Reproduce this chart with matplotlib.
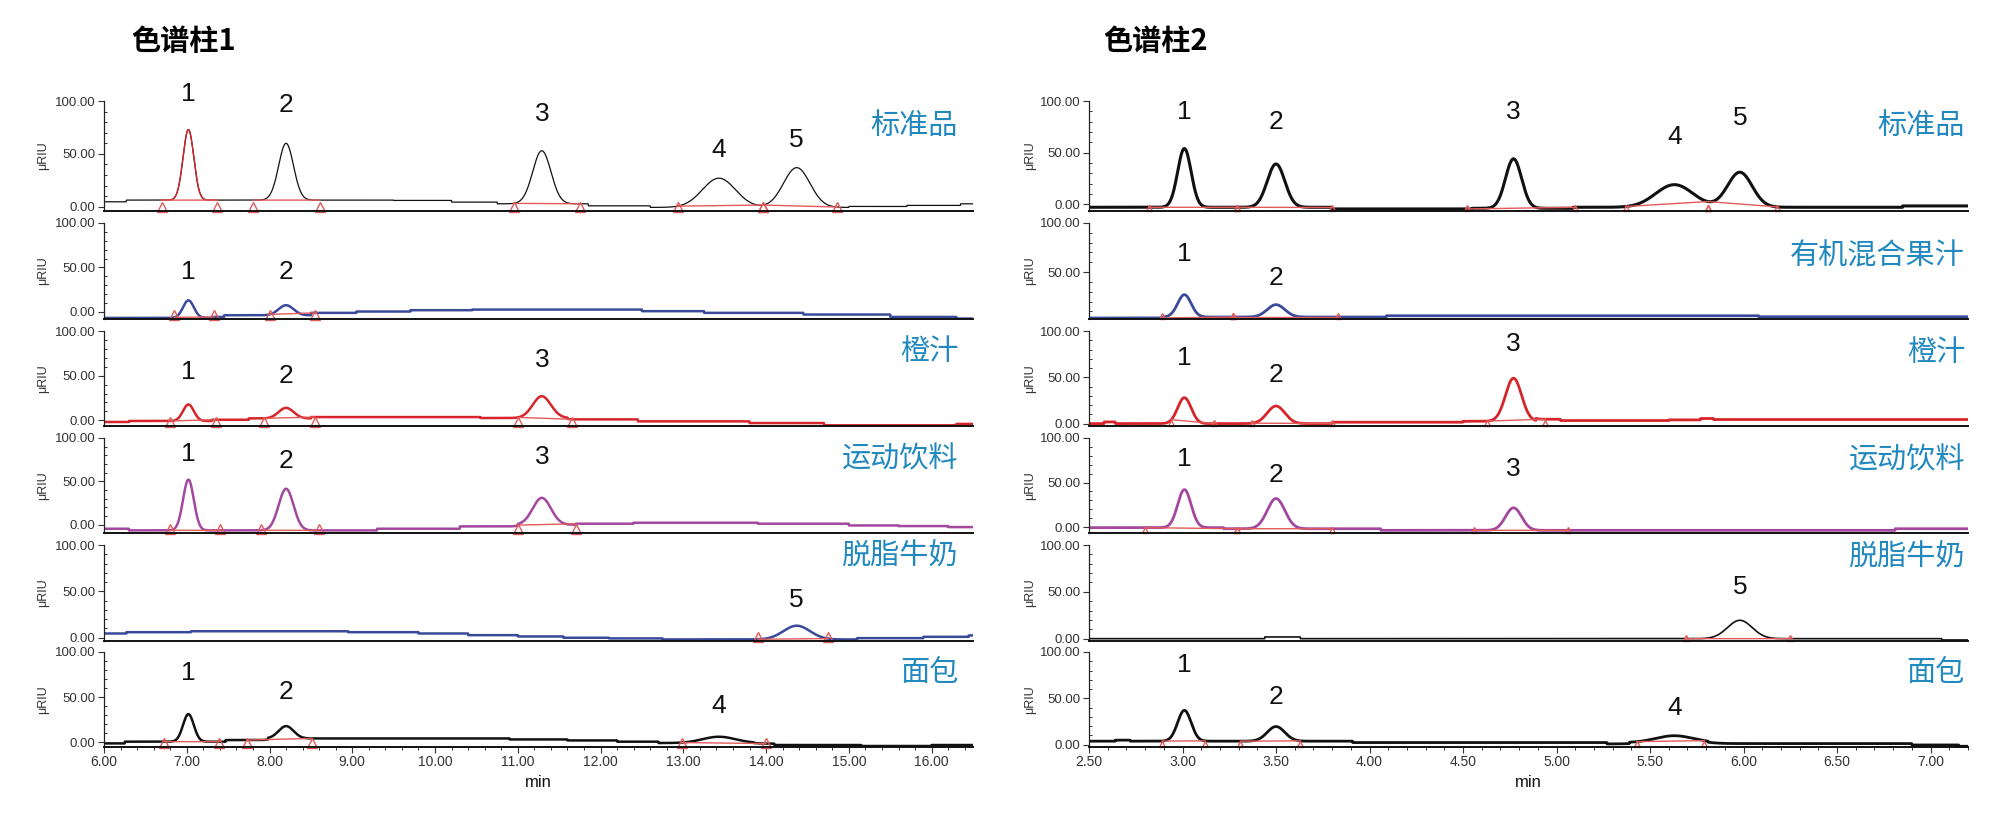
import numpy as np
import matplotlib
matplotlib.use("Agg")
import matplotlib.pyplot as plt
from matplotlib.ticker import MultipleLocator, FormatStrFormatter, FixedLocator
from matplotlib.transforms import offset_copy

plt.rcParams['font.family'] = ['Liberation Sans', 'Noto Sans CJK SC', 'DejaVu Sans']

# ---------------- data ----------------
titles = ["色谱柱1", "色谱柱2"]
samples = ["标准品", "有机混合果汁", "橙汁", "运动饮料", "脱脂牛奶", "面包"]
xlims = [(6.0, 16.5), (2.5, 7.2)]

# retention times / peak widths (sigma, min) for peaks 1..5
c1_rt = [7.02, 8.20, 11.29, 13.43, 14.37]
c1_sigma = [0.065, 0.09, 0.11, 0.20, 0.16]
c2_rt = [3.01, 3.50, 4.77, 5.63, 5.98]
c2_sigma = [0.036, 0.047, 0.043, 0.10, 0.066]

# ---- column 1 ----
c1_std_peaks = [1, 2, 3, 4, 5]
c1_std_tops = [73, 60, 53, 27, 37]
c1_std_lab = [107, 96, 88, 54, 63]
c1_std_win = [(6.70, 7.37), (7.80, 8.61), (10.95, 11.75), (12.93, 13.96), (13.96, 14.86)]
c1_std_bt = [6.0, 6.27, 9.5, 10.2, 10.75, 11.85, 12.6, 15.0, 15.7, 16.35]
c1_std_by = [4.7, 6.3, 6.0, 4.4, 2.8, 0.9, -0.6, 0.3, 1.3, 2.8]

c1_mix_peaks = [1, 2]
c1_mix_tops = [13, 7.5]
c1_mix_lab = [45, 45]
c1_mix_win = [(6.85, 7.33), (8.0, 8.55)]
c1_mix_bt = [6.0, 7.3, 7.45, 8.5, 9.05, 9.7, 10.45, 12.5, 13.25, 14.45, 15.5, 16.3]
c1_mix_by = [-6.8, -5.7, -3.8, -1.1, 0.4, 1.9, 2.6, 0.8, -1.1, -3.0, -5.7, -7.5]

c1_oj_peaks = [1, 2, 3]
c1_oj_tops = [17.8, 14, 27]
c1_oj_lab = [54, 50, 68]
c1_oj_win = [(6.8, 7.35), (7.93, 8.55), (11.0, 11.65)]
c1_oj_bt = [6.0, 6.3, 7.3, 7.75, 8.5, 10.55, 11.6, 12.45, 13.8, 14.7, 16.3]
c1_oj_by = [-1.8, -0.7, 0.7, 2.2, 3.7, 2.6, 1.1, -1.1, -3.0, -5.5, -4.0]

c1_sp_peaks = [1, 2, 3]
c1_sp_tops = [52, 41.5, 31]
c1_sp_lab = [81, 73, 78]
c1_sp_win = [(6.8, 7.4), (7.9, 8.6), (11.0, 11.7)]
c1_sp_bt = [6.0, 6.3, 9.3, 10.3, 11.0, 11.7, 12.4, 13.9, 15.0, 15.6, 16.2]
c1_sp_by = [-4.6, -6.5, -4.6, -1.9, 0.0, 1.2, 2.3, 1.2, -0.8, -1.5, -2.7]

c1_milk_peaks = [5]
c1_milk_tops = [13]
c1_milk_lab = [41]
c1_milk_win = [(13.9, 14.75)]
c1_milk_bt = [6.0, 6.27, 7.05, 8.95, 9.8, 10.4, 11.0, 11.55, 12.1, 12.75, 15.1, 15.9, 16.45]
c1_milk_by = [4.6, 6.0, 7.0, 6.0, 4.6, 2.8, 1.4, 0.0, -0.7, -1.8, -0.4, 1.0, 2.5]

c1_br_peaks = [1, 2, 4]
c1_br_tops = [31, 17.7, 5.9]
c1_br_lab = [77, 56, 40]
c1_br_win = [(6.73, 7.39), (7.73, 8.51), (12.98, 14.0)]
c1_br_bt = [6.0, 6.25, 7.47, 7.98, 10.9, 11.6, 12.2, 12.7, 13.85, 14.1, 15.15, 16.0]
c1_br_by = [-1.5, 0.4, 2.2, 4.0, 2.9, 1.8, 0.4, -1.1, -1.8, -3.3, -4.4, -3.3]

# ---- column 2 ----
c2_std_peaks = [1, 2, 3, 4, 5]
c2_std_tops = [54, 39, 44, 19, 31]
c2_std_lab = [89, 80, 89, 65, 84]
c2_std_win = [(2.82, 3.29), (3.29, 3.8), (4.52, 5.1), (5.37, 5.81), (5.81, 6.18)]
c2_std_bt = [2.5, 3.8, 4.55, 5.09, 6.85]
c2_std_by = [-2.9, -4.5, -3.9, -2.9, -1.6]

c2_mix_peaks = [1, 2]
c2_mix_tops = [27, 16.8]
c2_mix_lab = [68, 44]
c2_mix_win = [(2.89, 3.27), (3.27, 3.83)]
c2_mix_bt = [2.5, 2.9, 4.09, 6.08]
c2_mix_by = [3.2, 4.2, 5.5, 4.5]

c2_oj_peaks = [1, 2, 3]
c2_oj_tops = [28, 19, 49]
c2_oj_lab = [71, 53, 86]
c2_oj_win = [(2.94, 3.17), (3.37, 3.8), (4.63, 4.94)]
c2_oj_bt = [2.5, 2.58, 2.64, 3.8, 4.5, 4.89, 5.02, 5.6, 5.77, 5.84]
c2_oj_by = [0.0, 1.8, 0.0, 1.5, 2.5, 4.7, 3.3, 4.0, 5.5, 4.4]

c2_sp_peaks = [1, 2, 3]
c2_sp_tops = [42, 32, 21.6]
c2_sp_lab = [76, 59, 65]
c2_sp_win = [(2.8, 3.29), (3.29, 3.8), (4.56, 5.06)]
c2_sp_bt = [2.5, 3.22, 4.06, 6.81]
c2_sp_by = [-0.7, -1.9, -3.7, -1.9]

c2_milk_peaks = [5]
c2_milk_tops = [19.6]
c2_milk_lab = [55]
c2_milk_win = [(5.69, 6.25)]
c2_milk_bt = [2.5, 3.44, 3.63, 7.06]
c2_milk_by = [0.0, 1.8, 0.0, -1.4]

c2_br_peaks = [1, 2, 4]
c2_br_tops = [37, 19.5, 9.6]
c2_br_lab = [86, 51, 40]
c2_br_win = [(2.89, 3.12), (3.31, 3.63), (5.43, 5.79)]
c2_br_bt = [2.5, 2.64, 2.72, 3.91, 5.27, 5.39, 5.81, 6.90, 7.15]
c2_br_by = [3.7, 4.8, 3.7, 2.2, 0.7, 2.2, 1.1, -0.4, -1.8]

# ---------------- style / layout ----------------
BLACK, BLUE, RED, PURPLE = '#111111', '#3a4a9a', '#d6252a', '#a3479f'
INT_RED = '#e05a5a'
LABEL_C = '#2189bf'

W, H = 2000, 819
col_left = [104, 1089]
col_right = [973, 1968]
row_top = [101, 223, 331, 438, 545, 652]
row_bot = [211, 319, 426, 533, 641, 747]
ymins = [[-4, -8, -6.3, -9.5, -3.5, -5.5], [-6.5, 2.2, -2.6, -6.7, -2.5, -2.6]]
sample_y = [76, 66, 76, 75, 87, 77]
label_right = [958, 1965]

columns = [
    dict(rt=c1_rt, sig=c1_sigma, traces=[
        (c1_std_peaks, c1_std_tops, c1_std_lab, c1_std_win, c1_std_bt, c1_std_by, BLACK, 0.9),
        (c1_mix_peaks, c1_mix_tops, c1_mix_lab, c1_mix_win, c1_mix_bt, c1_mix_by, BLUE, 1.8),
        (c1_oj_peaks, c1_oj_tops, c1_oj_lab, c1_oj_win, c1_oj_bt, c1_oj_by, RED, 1.8),
        (c1_sp_peaks, c1_sp_tops, c1_sp_lab, c1_sp_win, c1_sp_bt, c1_sp_by, PURPLE, 1.8),
        (c1_milk_peaks, c1_milk_tops, c1_milk_lab, c1_milk_win, c1_milk_bt, c1_milk_by, BLUE, 1.8),
        (c1_br_peaks, c1_br_tops, c1_br_lab, c1_br_win, c1_br_bt, c1_br_by, BLACK, 1.8)]),
    dict(rt=c2_rt, sig=c2_sigma, traces=[
        (c2_std_peaks, c2_std_tops, c2_std_lab, c2_std_win, c2_std_bt, c2_std_by, BLACK, 2.2),
        (c2_mix_peaks, c2_mix_tops, c2_mix_lab, c2_mix_win, c2_mix_bt, c2_mix_by, BLUE, 2.0),
        (c2_oj_peaks, c2_oj_tops, c2_oj_lab, c2_oj_win, c2_oj_bt, c2_oj_by, RED, 2.0),
        (c2_sp_peaks, c2_sp_tops, c2_sp_lab, c2_sp_win, c2_sp_bt, c2_sp_by, PURPLE, 2.0),
        (c2_milk_peaks, c2_milk_tops, c2_milk_lab, c2_milk_win, c2_milk_bt, c2_milk_by, BLACK, 1.2),
        (c2_br_peaks, c2_br_tops, c2_br_lab, c2_br_win, c2_br_bt, c2_br_by, BLACK, 2.0)]),
]


def base_at(t, bt, by):
    idx = np.clip(np.searchsorted(bt, t, side='right') - 1, 0, len(by) - 1)
    return np.asarray(by, float)[idx]


def make_trace(t, peaks, tops, bt, by, rt, sig):
    y = base_at(t, bt, by).astype(float)
    for p, top in zip(peaks, tops):
        r, s = rt[p - 1], sig[p - 1]
        amp = top - base_at(np.array([r]), bt, by)[0]
        y = y + amp * np.exp(-0.5 * ((t - r) / s) ** 2)
    return y


fig = plt.figure(figsize=(W / 100, H / 100), dpi=100)

for c, col in enumerate(columns):
    x0, x1 = xlims[c]
    t = np.linspace(x0, x1, 4000)
    for r, (peaks, tops, labs, wins, bt, by, color, lw) in enumerate(col['traces']):
        ax = fig.add_axes([col_left[c] / W, 1 - row_bot[r] / H,
                           (col_right[c] - col_left[c]) / W, (row_bot[r] - row_top[r]) / H])
        ymin = ymins[c][r]
        y = make_trace(t, peaks, tops, bt, by, col['rt'], col['sig'])
        ax.plot(t, y, color=color, lw=lw, solid_joinstyle='round')

        # standard on column 1: first peak highlighted in red
        if c == 0 and r == 0:
            m = (t >= wins[0][0]) & (t <= wins[0][1])
            ax.plot(t[m], y[m], color=RED, lw=1.0)

        # integration baselines and markers
        tri_tr = offset_copy(ax.transData, fig=fig, y=3.2 if c == 0 else 2.4, units='points')
        for ts, te in wins:
            ys, ye = np.interp([ts, te], t, y)
            ax.plot([ts, te], [ys, ye], color=INT_RED, lw=1.0)
            ax.plot([ts, te], [ymin, ymin], ls='none', marker='^', mfc='none', mec=INT_RED,
                    mew=1.0, ms=7 if c == 0 else 5, transform=tri_tr, clip_on=False)

        # peak numbers
        for p, ly in zip(peaks, labs):
            ax.text(col['rt'][p - 1], ly, str(p), ha='center', va='center',
                    fontsize=19, color='#111111', clip_on=False)

        # sample name
        if not (c == 0 and r == 1):
            ax.text((label_right[c] - col_left[c]) / (col_right[c] - col_left[c]),
                    (sample_y[r] - ymin) / (100 - ymin), samples[r],
                    transform=ax.transAxes, ha='right', va='center', fontsize=21,
                    color=LABEL_C, family=['Noto Sans CJK SC'])

        ax.set_xlim(x0, x1)
        ax.set_ylim(ymin, 100)
        for s in ('top', 'right'):
            ax.spines[s].set_visible(False)
        ax.spines['left'].set_color('#222222')
        ax.spines['left'].set_linewidth(0.9)
        ax.spines['bottom'].set_color('#111111')
        ax.spines['bottom'].set_linewidth(1.4)

        ax.yaxis.set_major_locator(FixedLocator([0, 50, 100]))
        ax.yaxis.set_major_formatter(FormatStrFormatter('%.2f'))
        ax.yaxis.set_minor_locator(MultipleLocator(10))
        ax.tick_params(axis='y', which='major', direction='out', length=4, width=0.8,
                       labelsize=9.5, pad=2, colors='#333333')
        ax.tick_params(axis='y', which='minor', direction='in', length=2.5, width=0.7,
                       colors='#333333')
        ax.text((43 - col_left[c]) / (col_right[c] - col_left[c]) if c == 0 else
                (1030 - col_left[c]) / (col_right[c] - col_left[c]), 0.5, 'μRIU',
                transform=ax.transAxes, rotation=90, ha='center', va='center',
                fontsize=9, color='#333333')

        if r == 5:
            step = 1.0 if c == 0 else 0.5
            ax.xaxis.set_major_locator(MultipleLocator(step))
            ax.xaxis.set_minor_locator(MultipleLocator(0.2 if c == 0 else 0.1))
            ax.xaxis.set_major_formatter(FormatStrFormatter('%.2f'))
            ax.tick_params(axis='x', which='major', direction='out', length=4, width=0.8,
                           labelsize=10, pad=2, colors='#333333')
            ax.tick_params(axis='x', which='minor', direction='out', length=2.5, width=0.7,
                           colors='#333333')
            ax.set_xlabel('min', fontsize=12, labelpad=4, color='#111111')
        else:
            ax.tick_params(axis='x', which='both', bottom=False, labelbottom=False)

fig.text(131 / W, 1 - 41 / H, titles[0], ha='left', va='center', fontsize=21,
         fontweight='bold', family=['Noto Sans CJK SC'])
fig.text(1103 / W, 1 - 41 / H, titles[1], ha='left', va='center', fontsize=21,
         fontweight='bold', family=['Noto Sans CJK SC'])

fig.savefig('out.png', dpi=100, facecolor='white')
